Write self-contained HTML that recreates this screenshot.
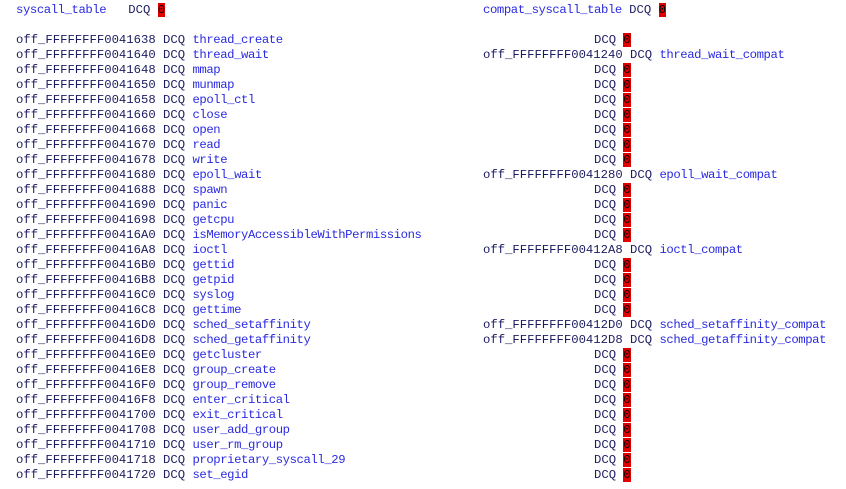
<!DOCTYPE html>
<html><head><style>
body{margin:0;background:#fff;width:846px;height:489px;overflow:hidden}
pre{position:absolute;margin:0;font-family:"Liberation Mono",monospace;font-size:12.25px;line-height:15px;color:#1c1c60}
.b{color:#2a2ae0;letter-spacing:-0.41px}
.z{background:#e00000;color:#000}
</style></head><body>
<pre style="left:16px;top:3px"><span class="b">syscall_table</span>   DCQ <span class="z">0</span>

off_FFFFFFFF0041638 DCQ <span class="b">thread_create</span>
off_FFFFFFFF0041640 DCQ <span class="b">thread_wait</span>
off_FFFFFFFF0041648 DCQ <span class="b">mmap</span>
off_FFFFFFFF0041650 DCQ <span class="b">munmap</span>
off_FFFFFFFF0041658 DCQ <span class="b">epoll_ctl</span>
off_FFFFFFFF0041660 DCQ <span class="b">close</span>
off_FFFFFFFF0041668 DCQ <span class="b">open</span>
off_FFFFFFFF0041670 DCQ <span class="b">read</span>
off_FFFFFFFF0041678 DCQ <span class="b">write</span>
off_FFFFFFFF0041680 DCQ <span class="b">epoll_wait</span>
off_FFFFFFFF0041688 DCQ <span class="b">spawn</span>
off_FFFFFFFF0041690 DCQ <span class="b">panic</span>
off_FFFFFFFF0041698 DCQ <span class="b">getcpu</span>
off_FFFFFFFF00416A0 DCQ <span class="b">isMemoryAccessibleWithPermissions</span>
off_FFFFFFFF00416A8 DCQ <span class="b">ioctl</span>
off_FFFFFFFF00416B0 DCQ <span class="b">gettid</span>
off_FFFFFFFF00416B8 DCQ <span class="b">getpid</span>
off_FFFFFFFF00416C0 DCQ <span class="b">syslog</span>
off_FFFFFFFF00416C8 DCQ <span class="b">gettime</span>
off_FFFFFFFF00416D0 DCQ <span class="b">sched_setaffinity</span>
off_FFFFFFFF00416D8 DCQ <span class="b">sched_getaffinity</span>
off_FFFFFFFF00416E0 DCQ <span class="b">getcluster</span>
off_FFFFFFFF00416E8 DCQ <span class="b">group_create</span>
off_FFFFFFFF00416F0 DCQ <span class="b">group_remove</span>
off_FFFFFFFF00416F8 DCQ <span class="b">enter_critical</span>
off_FFFFFFFF0041700 DCQ <span class="b">exit_critical</span>
off_FFFFFFFF0041708 DCQ <span class="b">user_add_group</span>
off_FFFFFFFF0041710 DCQ <span class="b">user_rm_group</span>
off_FFFFFFFF0041718 DCQ <span class="b">proprietary_syscall_29</span>
off_FFFFFFFF0041720 DCQ <span class="b">set_egid</span></pre>
<pre style="left:483px;top:3px"><span class="b">compat_syscall_table</span> DCQ <span class="z">0</span>


off_FFFFFFFF0041240 DCQ <span class="b">thread_wait_compat</span>







off_FFFFFFFF0041280 DCQ <span class="b">epoll_wait_compat</span>




off_FFFFFFFF00412A8 DCQ <span class="b">ioctl_compat</span>




off_FFFFFFFF00412D0 DCQ <span class="b">sched_setaffinity_compat</span>
off_FFFFFFFF00412D8 DCQ <span class="b">sched_getaffinity_compat</span></pre>
<pre style="left:594px;top:3px">


DCQ <span class="z">0</span>

DCQ <span class="z">0</span>
DCQ <span class="z">0</span>
DCQ <span class="z">0</span>
DCQ <span class="z">0</span>
DCQ <span class="z">0</span>
DCQ <span class="z">0</span>
DCQ <span class="z">0</span>

DCQ <span class="z">0</span>
DCQ <span class="z">0</span>
DCQ <span class="z">0</span>
DCQ <span class="z">0</span>

DCQ <span class="z">0</span>
DCQ <span class="z">0</span>
DCQ <span class="z">0</span>
DCQ <span class="z">0</span>


DCQ <span class="z">0</span>
DCQ <span class="z">0</span>
DCQ <span class="z">0</span>
DCQ <span class="z">0</span>
DCQ <span class="z">0</span>
DCQ <span class="z">0</span>
DCQ <span class="z">0</span>
DCQ <span class="z">0</span>
DCQ <span class="z">0</span></pre>
</body></html>
